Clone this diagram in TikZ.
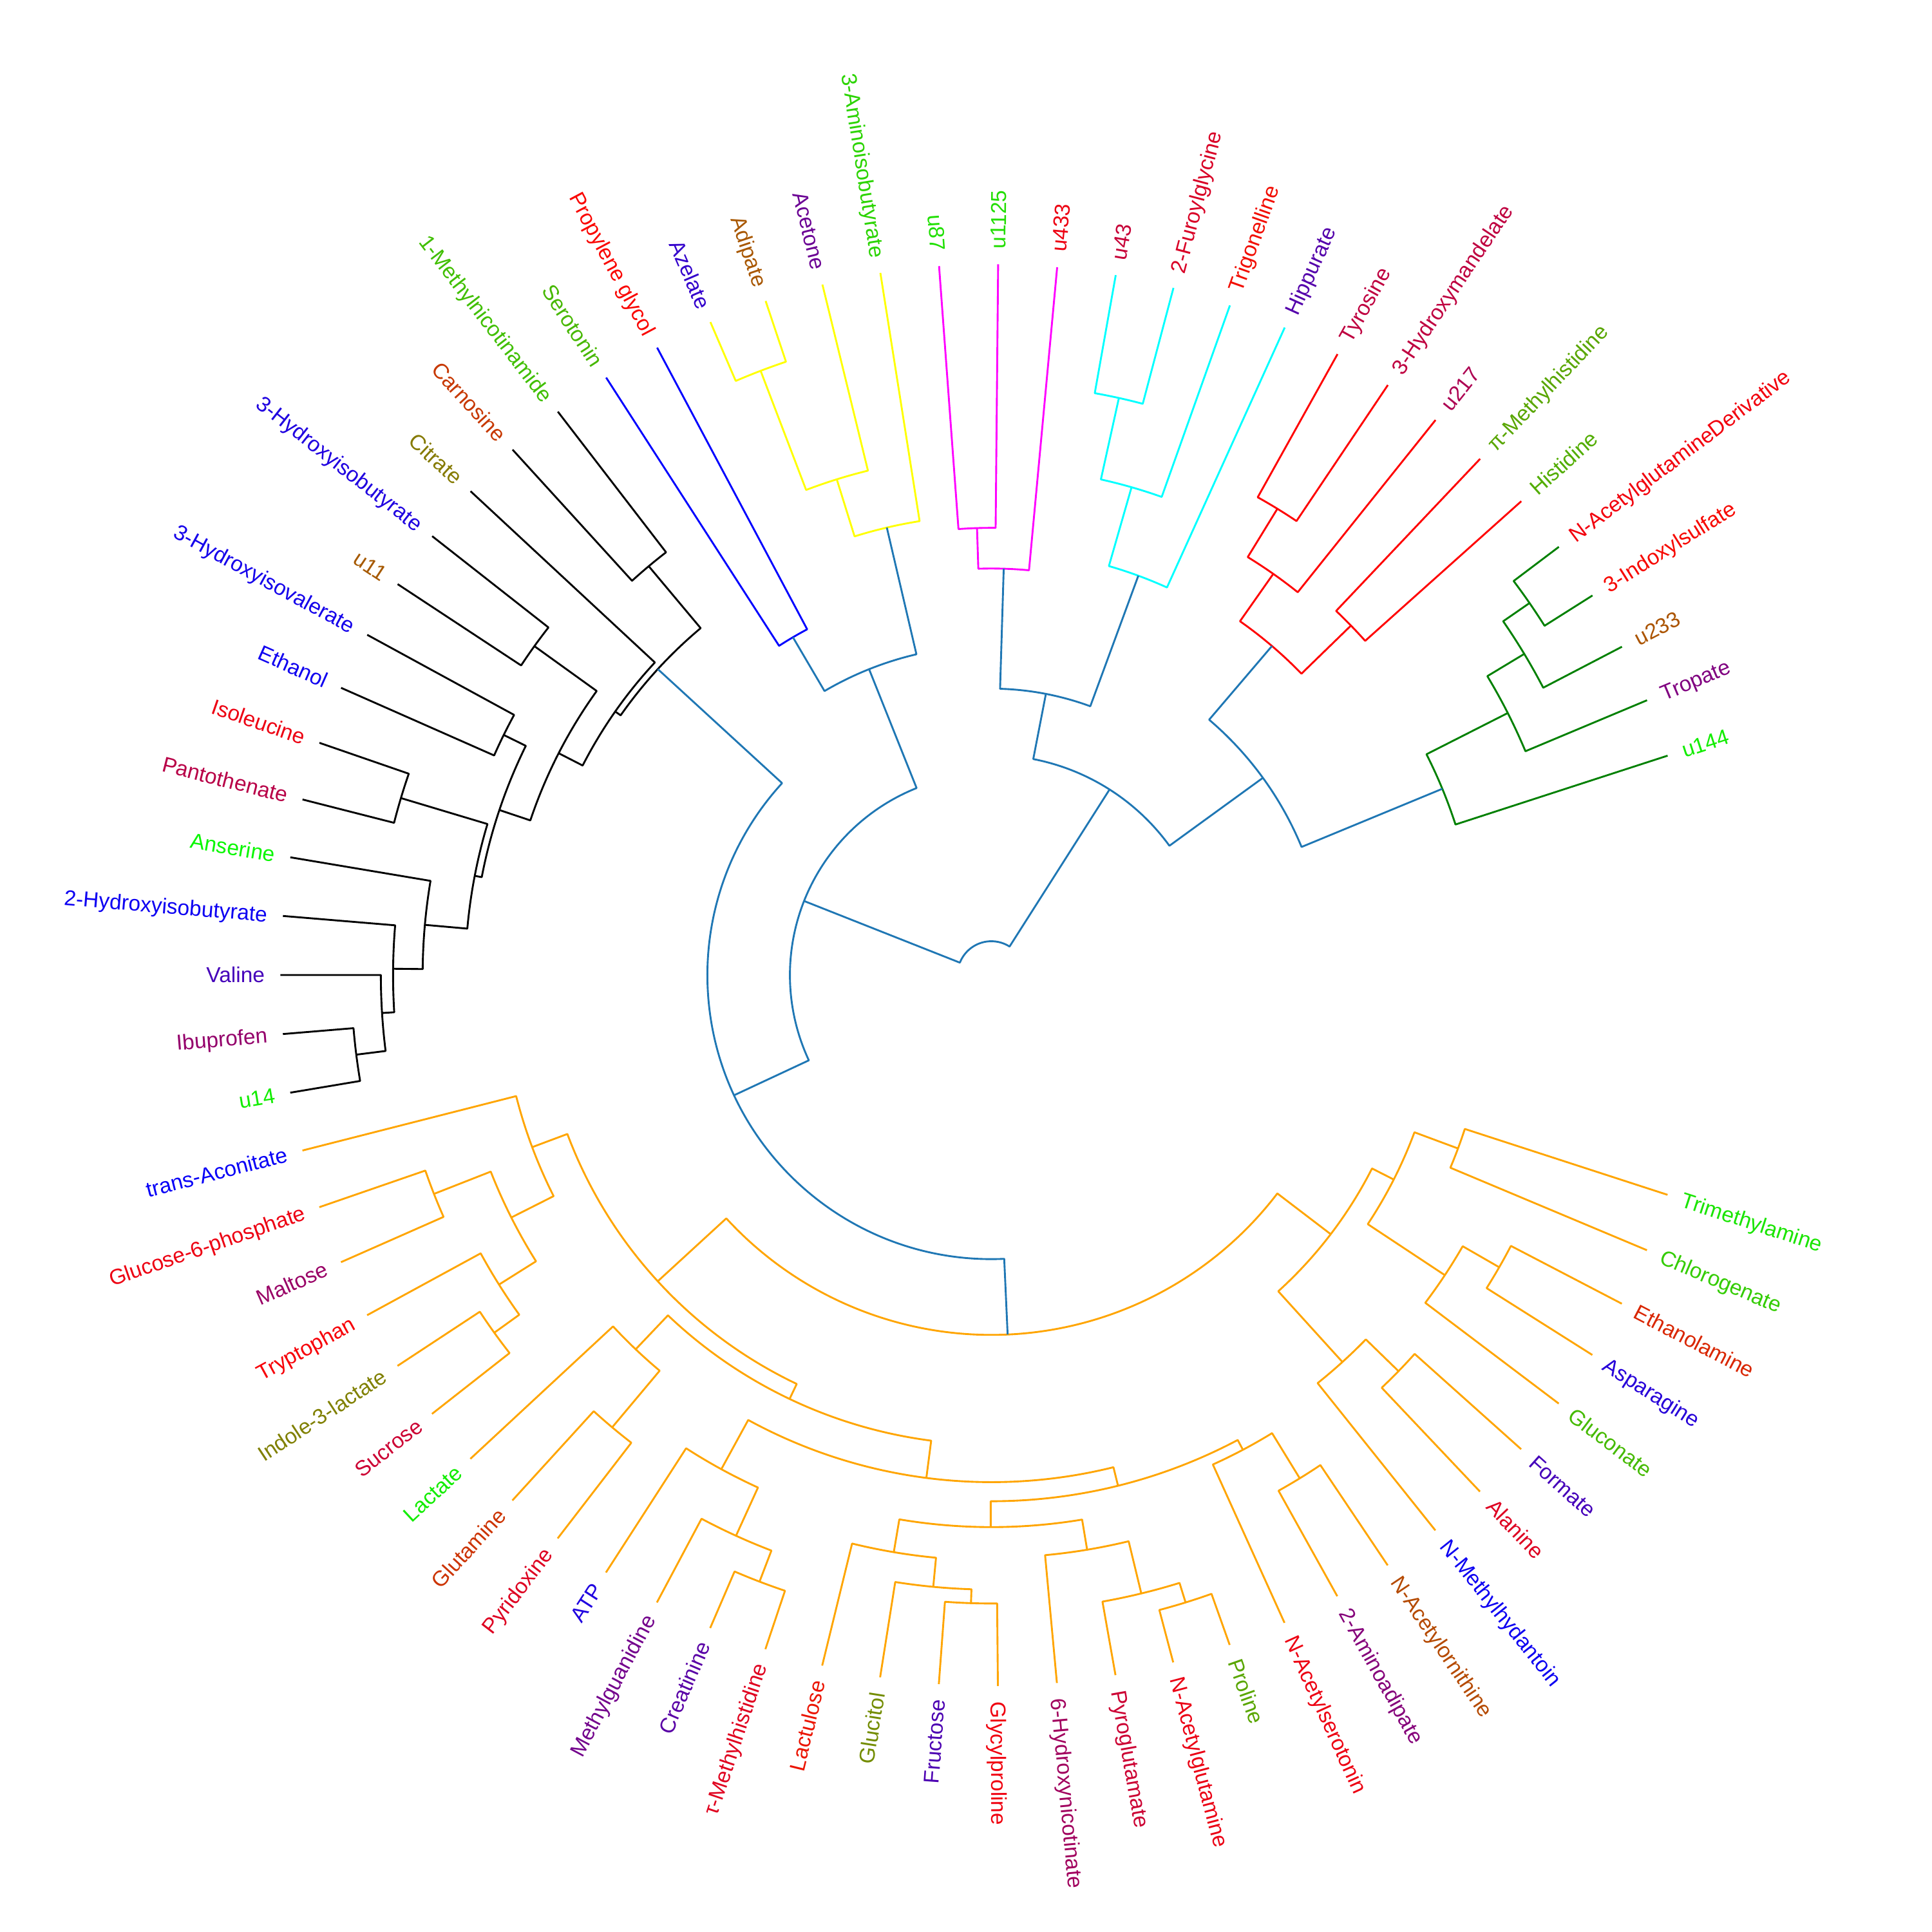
\documentclass[tikz,border=0pt]{standalone}
\usepackage{fontspec}
\setmainfont{Liberation Sans}
\definecolor{czero}{HTML}{1F77B4}
\definecolor{corange}{HTML}{FFA500}
\definecolor{cgreen}{HTML}{008000}
\definecolor{cyellow}{rgb}{1,1,0}
\definecolor{cmagenta}{rgb}{1,0,1}
\definecolor{ccyan}{rgb}{0,1,1}
\tikzset{
  leaflabel/.style={font=\fontsize{17.5}{20}\selectfont, inner sep=0pt, text height=15.8pt, text depth=3.7pt},
}
% one merge: first child, its angle, second child, its angle, radius of the merge
\newcommand{\dlink}[5]{\draw (#1) -- (#2:#5) arc[start angle=#2, end angle=#4, radius=#5pt] -- (#3);}

\begin{document}
\begin{tikzpicture}[x=1pt,y=1pt,line width=1.5pt,line join=round]
\path[use as bounding box,fill=white] (-804.6,-776.6) rectangle (763.4,791.4);
\def\rleaf{577};\def\rtext{589};

% leaves and labels
\foreach \lab/\col [count=\j from 0] in {
  Trimethylamine/green!90!red, Chlorogenate/green!80!red, Ethanolamine/green!15!red,
  Asparagine/red!15!blue, Gluconate/green!73!red, Formate/red!27!blue,
  Alanine/red!87!blue, N-Methylhydantoin/red!5!blue, N-Acetylornithine/green!29!red,
  2-Aminoadipate/red!52!blue, N-Acetylserotonin/red!93!blue, Proline/green!65!red,
  N-Acetylglutamine/red!92!blue, Pyroglutamate/red!80!blue, 6-Hydroxynicotinate/red!63!blue,
  Glycylproline/red!94!blue, Fructose/red!30!blue, Glucitol/green!55!red,
  Lactulose/green!8!red, τ-Methylhistidine/red!88!blue, Creatinine/red!35!blue,
  Methylguanidine/red!45!blue, ATP/red!12!blue, Pyridoxine/red!87!blue,
  Glutamine/green!20!red, Lactate/green!93!red, Sucrose/red!80!blue,
  Indole-3-lactate/green!50!red, Tryptophan/red!97!blue, Maltose/red!60!blue,
  Glucose-6-phosphate/red!93!blue, trans-Aconitate/red!3!blue, u14/green!93!red,
  Ibuprofen/red!58!blue, Valine/red!27!blue, 2-Hydroxyisobutyrate/red!5!blue,
  Anserine/green!97!red, Pantothenate/red!72!blue, Isoleucine/red!93!blue,
  Ethanol/red!6!blue, 3-Hydroxyisovalerate/red!8!blue, u11/green!35!red,
  3-Hydroxyisobutyrate/red!12!blue, Citrate/green!48!red, Carnosine/green!22!red,
  1-Methylnicotinamide/green!75!red, Serotonin/green!72!red, Propylene glycol/green!2!red,
  Azelate/red!20!blue, Adipate/green!34!red, Acetone/red!42!blue,
  3-Aminoisobutyrate/green!83!red, u87/green!88!red, u1125/green!87!red,
  u433/red!93!blue, u43/red!78!blue, 2-Furoylglycine/red!85!blue,
  Trigonelline/green!5!red, Hippurate/red!33!blue, Tyrosine/red!75!blue,
  3-Hydroxymandelate/red!75!blue, u217/red!68!blue, π-Methylhistidine/green!65!red,
  Histidine/green!68!red, N-AcetylglutamineDerivative/red!95!blue, 3-Indoxylsulfate/green!3!red,
  u233/green!33!red, Tropate/red!50!blue, u144/green!93!red} {
  \pgfmathsetmacro\ang{-18-4.765*\j}
  \coordinate (l\j) at (\ang:\rleaf);
  \ifnum\j<16 \def\rot{\ang}\def\anc{west}%
  \else\ifnum\j>52 \def\rot{\ang}\def\anc{west}%
  \else\pgfmathsetmacro\rot{\ang+180}\def\anc{east}\fi\fi
  \node[leaflabel, text=\col, anchor=\anc, rotate=\rot] (t\j) at (\ang:\rtext) {\lab};
}

% orange cluster
\begin{scope}[corange]
\coordinate (or1) at (-20.38:404);    \dlink{l0}{-18}{l1}{-22.765}{404}
\coordinate (or2) at (-29.91:475.5);  \dlink{l2}{-27.53}{l3}{-32.295}{475.5}
\coordinate (or3) at (-33.49:441.3);  \dlink{or2}{-29.91}{l4}{-37.06}{441.3}
\coordinate (or4) at (-26.93:366.3);  \dlink{or1}{-20.38}{or3}{-33.49}{366.3}
\coordinate (or5) at (-44.21:461);    \dlink{l5}{-41.825}{l6}{-46.59}{461}
\coordinate (or6) at (-47.78:424);    \dlink{or5}{-44.21}{l7}{-51.355}{424}
\coordinate (or7) at (-37.36:346.5);  \dlink{or4}{-26.93}{or6}{-47.78}{346.5}
\coordinate (or8) at (-58.50:479);    \dlink{l8}{-56.12}{l9}{-60.885}{479}
\coordinate (or9) at (-62.08:436);    \dlink{l10}{-65.65}{or8}{-58.50}{436}
\coordinate (or10) at (-72.80:533);   \dlink{l11}{-70.415}{l12}{-75.18}{533}
\coordinate (or11) at (-76.37:516.4); \dlink{or10}{-72.80}{l13}{-79.945}{516.4}
\coordinate (or12) at (-80.54:472.8); \dlink{or11}{-76.37}{l14}{-84.71}{472.8}
\coordinate (or13) at (-91.86:510);   \dlink{l15}{-89.475}{l16}{-94.24}{510}
\coordinate (or14) at (-95.43:498.7); \dlink{or13}{-91.86}{l17}{-99.005}{498.7}
\coordinate (or15) at (-99.60:475);   \dlink{or14}{-95.43}{l18}{-103.77}{475}
\coordinate (or16) at (-90.07:448);   \dlink{or12}{-80.54}{or15}{-99.60}{448}
\coordinate (or17) at (-76.07:427);   \dlink{or9}{-62.08}{or16}{-90.07}{427}
\coordinate (or18) at (-110.92:527);  \dlink{l19}{-108.535}{l20}{-113.3}{527}
\coordinate (or19) at (-114.49:500);  \dlink{or18}{-110.92}{l21}{-118.065}{500}
\coordinate (or20) at (-118.66:457);  \dlink{or19}{-114.49}{l22}{-122.83}{457}
\coordinate (or21) at (-97.37:411.5); \dlink{or17}{-76.07}{or20}{-118.66}{411.5}
\coordinate (or22) at (-129.98:479);  \dlink{l23}{-127.595}{l24}{-132.36}{479}
\coordinate (or23) at (-133.55:419);  \dlink{or22}{-129.98}{l25}{-137.125}{419}
\coordinate (or24) at (-115.46:381);  \dlink{or21}{-97.37}{or23}{-133.55}{381}
\coordinate (or25) at (-144.27:497);  \dlink{l26}{-141.89}{l27}{-146.655}{497}
\coordinate (or26) at (-147.85:472);  \dlink{or25}{-144.27}{l28}{-151.42}{472}
\coordinate (or27) at (-158.57:486);  \dlink{l29}{-156.185}{l30}{-160.95}{486}
\coordinate (or28) at (-153.21:436.5); \dlink{or26}{-147.85}{or27}{-158.57}{436.5}
\coordinate (or29) at (-159.46:398);  \dlink{or28}{-153.21}{l31}{-165.715}{398}
\coordinate (or30) at (-137.46:367.5); \dlink{or24}{-115.46}{or29}{-159.46}{367.5}
\coordinate (or31) at (-87.41:292);   \dlink{or7}{-37.36}{or30}{-137.46}{292}
\end{scope}

% black cluster
\begin{scope}[black]
\coordinate (bk1) at (-172.86:519.5); \dlink{l32}{-170.48}{l33}{-175.245}{519.5}
\coordinate (bk2) at (-176.44:495.5); \dlink{bk1}{-172.86}{l34}{-180.01}{495.5}
\coordinate (bk3) at (-180.61:485.6); \dlink{bk2}{-176.44}{l35}{-184.775}{485.6}
\coordinate (bk4) at (-185.07:461.6); \dlink{bk3}{-180.61}{l36}{-189.54}{461.6}
\coordinate (bk5) at (-196.69:500.3); \dlink{l37}{-194.305}{l38}{-199.07}{500.3}
\coordinate (bk6) at (-190.88:427);   \dlink{bk4}{-185.07}{bk5}{-196.69}{427}
\coordinate (bk7) at (-206.22:441.2); \dlink{l39}{-203.835}{l40}{-208.6}{441.2}
\coordinate (bk8) at (-198.55:421.2); \dlink{bk6}{-190.88}{bk7}{-206.22}{421.2}
\coordinate (bk9) at (-215.75:457);   \dlink{l41}{-213.365}{l42}{-218.13}{457}
\coordinate (bk10) at (-207.15:394.7); \dlink{bk8}{-198.55}{bk9}{-215.75}{394.7}
\coordinate (bk11) at (-215.02:372.8); \dlink{bk10}{-207.15}{l43}{-222.895}{372.8}
\coordinate (bk12) at (-230.04:433);  \dlink{l44}{-227.66}{l45}{-232.425}{433}
\coordinate (bk13) at (-222.53:367.4); \dlink{bk11}{-215.02}{bk12}{-230.04}{367.4}
\end{scope}

% blue and yellow clusters
\begin{scope}[blue]
\coordinate (bl1) at (-239.57:318);   \dlink{l46}{-237.19}{l47}{-241.955}{318}
\end{scope}
\begin{scope}[cyellow]
\coordinate (ye1) at (-249.10:525);   \dlink{l48}{-246.72}{l49}{-251.485}{525}
\coordinate (ye2) at (-252.68:421.5); \dlink{ye1}{-249.10}{l50}{-256.25}{421.5}
\coordinate (ye3) at (-256.85:373);   \dlink{ye2}{-252.68}{l51}{-261.015}{373}
\end{scope}

% magenta and cyan clusters
\begin{scope}[cmagenta]
\coordinate (mg1) at (-268.16:363);   \dlink{l52}{-265.78}{l53}{-270.545}{363}
\coordinate (mg2) at (-271.74:330);   \dlink{mg1}{-268.16}{l54}{-275.31}{330}
\end{scope}
\begin{scope}[ccyan]
\coordinate (cy1) at (-282.46:479.7); \dlink{l55}{-280.075}{l56}{-284.84}{479.7}
\coordinate (cy2) at (-286.03:412);   \dlink{cy1}{-282.46}{l57}{-289.605}{412}
\coordinate (cy3) at (-290.20:345.4); \dlink{cy2}{-286.03}{l58}{-294.37}{345.4}
\end{scope}

% red and green clusters
\begin{scope}[red]
\coordinate (rd1) at (-301.52:444);   \dlink{l59}{-299.135}{l60}{-303.9}{444}
\coordinate (rd2) at (-305.09:398);   \dlink{rd1}{-301.52}{l61}{-308.665}{398}
\coordinate (rd3) at (-315.81:407);   \dlink{l62}{-313.43}{l63}{-318.195}{407}
\coordinate (rd4) at (-310.45:351);   \dlink{rd2}{-305.09}{rd3}{-315.81}{351}
\end{scope}
\begin{scope}[cgreen]
\coordinate (gn1) at (-325.34:531);   \dlink{l64}{-322.96}{l65}{-327.725}{531}
\coordinate (gn2) at (-328.92:505);   \dlink{gn1}{-325.34}{l66}{-332.49}{505}
\coordinate (gn3) at (-333.09:470);   \dlink{gn2}{-328.92}{l67}{-337.255}{470}
\coordinate (gn4) at (-337.55:396);   \dlink{gn3}{-333.09}{l68}{-342.02}{396}
\end{scope}

% links above the cut
\begin{scope}[czero]
\coordinate (up1) at (-154.97:230.5); \dlink{or31}{-87.41}{bk13}{-222.53}{230.5}
\coordinate (up2) at (-248.21:267.4); \dlink{bl1}{-239.57}{ye3}{-256.85}{267.4}
\coordinate (up3) at (-201.59:163.5); \dlink{up1}{-154.97}{up2}{-248.21}{163.5}
\coordinate (up4) at (-280.97:232.5); \dlink{mg2}{-271.74}{cy3}{-290.20}{232.5}
\coordinate (up5) at (-324.00:272.4); \dlink{rd4}{-310.45}{gn4}{-337.55}{272.4}
\coordinate (up6) at (-302.48:178.6); \dlink{up4}{-280.97}{up5}{-324.00}{178.6}
\coordinate (root) at (-252.04:27.5); \dlink{up3}{-201.59}{up6}{-302.48}{27.5}
\end{scope}

\end{tikzpicture}
\end{document}
